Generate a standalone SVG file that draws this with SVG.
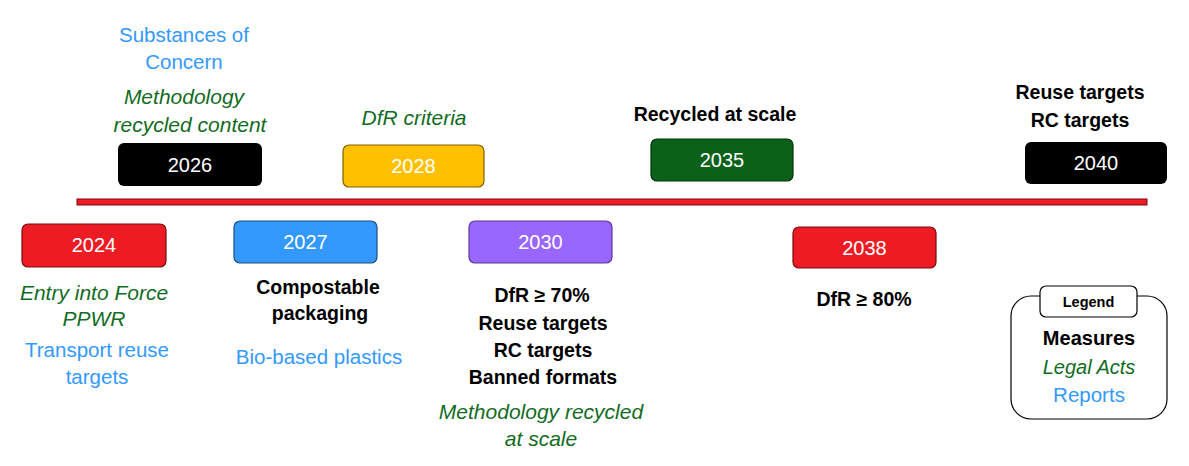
<svg xmlns="http://www.w3.org/2000/svg" width="1189" height="466" viewBox="0 0 1189 466">
<style>
text{font-family:"Liberation Sans",Arial,sans-serif;text-anchor:middle}
.yr{font-size:20px;fill:#fff}
.m{font-size:19.5px;font-weight:bold;fill:#000}
.l{font-size:21px;font-style:italic;fill:#136B1F}
.r{font-size:20.5px;fill:#3399FF}
.box{stroke-width:1.2}
</style>
<rect width="1189" height="466" fill="#fff"/>
<g id="connectors">
<rect x="77" y="199" width="1070" height="6" fill="#ED1C24" stroke="#7A0A0E" stroke-width="1"/>
</g>
<g id="y2024">
<rect class="box" x="22" y="224" width="144" height="43" rx="6" fill="#ED1C24" stroke="#7A0A0E"/>
<text class="yr" x="94" y="252">2024</text>
<text class="l" x="94" y="300">Entry into Force</text>
<text class="l" x="94" y="326">PPWR</text>
<text class="r" x="97" y="357">Transport reuse</text>
<text class="r" x="97" y="384">targets</text>
</g>
<g id="y2026">
<rect x="118" y="143" width="144" height="43" rx="6" fill="#000"/>
<text class="yr" x="190" y="172">2026</text>
<text class="r" x="184" y="42">Substances of</text>
<text class="r" x="184" y="69">Concern</text>
<text class="l" x="184" y="104">Methodology</text>
<text class="l" x="190" y="132">recycled content</text>
</g>
<g id="y2027">
<rect class="box" x="234" y="221" width="143" height="42" rx="6" fill="#3399FF" stroke="#1F4E79"/>
<text class="yr" x="305.5" y="249">2027</text>
<text class="m" x="318" y="294">Compostable</text>
<text class="m" x="320" y="320">packaging</text>
<text class="r" x="319" y="364">Bio-based plastics</text>
</g>
<g id="y2028">
<rect class="box" x="343" y="145" width="141" height="42" rx="6" fill="#FFC000" stroke="#7F6000"/>
<text class="yr" x="413.5" y="173">2028</text>
<text class="l" x="414" y="125">DfR criteria</text>
</g>
<g id="y2030">
<rect class="box" x="469" y="221" width="143" height="42" rx="6" fill="#9966FF" stroke="#5B3A99"/>
<text class="yr" x="540.5" y="249">2030</text>
<text class="m" x="542" y="302">DfR ≥ 70%</text>
<text class="m" x="543" y="330">Reuse targets</text>
<text class="m" x="543" y="357">RC targets</text>
<text class="m" x="543" y="384">Banned formats</text>
<text class="l" x="541" y="419">Methodology recycled</text>
<text class="l" x="541" y="446">at scale</text>
</g>
<g id="y2035">
<rect class="box" x="651" y="139" width="142" height="42" rx="6" fill="#0B6117" stroke="#06300B"/>
<text class="yr" x="722" y="167">2035</text>
<text class="m" x="715" y="121">Recycled at scale</text>
</g>
<g id="y2038">
<rect class="box" x="793" y="227" width="143" height="41" rx="6" fill="#ED1C24" stroke="#7A0A0E"/>
<text class="yr" x="864.5" y="255">2038</text>
<text class="m" x="864" y="306">DfR ≥ 80%</text>
</g>
<g id="y2040">
<rect x="1025" y="142" width="142" height="42" rx="6" fill="#000"/>
<text class="yr" x="1096" y="170">2040</text>
<text class="m" x="1080" y="99">Reuse targets</text>
<text class="m" x="1080" y="127">RC targets</text>
</g>
<g id="legend">
<rect x="1011" y="296" width="156" height="123" rx="20" fill="#fff" stroke="#000" stroke-width="1.2"/>
<rect x="1040" y="286" width="97" height="31" rx="6" fill="#fff" stroke="#000" stroke-width="1.2"/>
<text x="1088.5" y="307" style="font-size:14.5px;font-weight:bold">Legend</text>
<text class="m" x="1089" y="345" style="font-size:20px">Measures</text>
<text class="l" x="1089" y="374" style="font-size:20px">Legal Acts</text>
<text class="r" x="1089" y="402">Reports</text>
</g>
</svg>
